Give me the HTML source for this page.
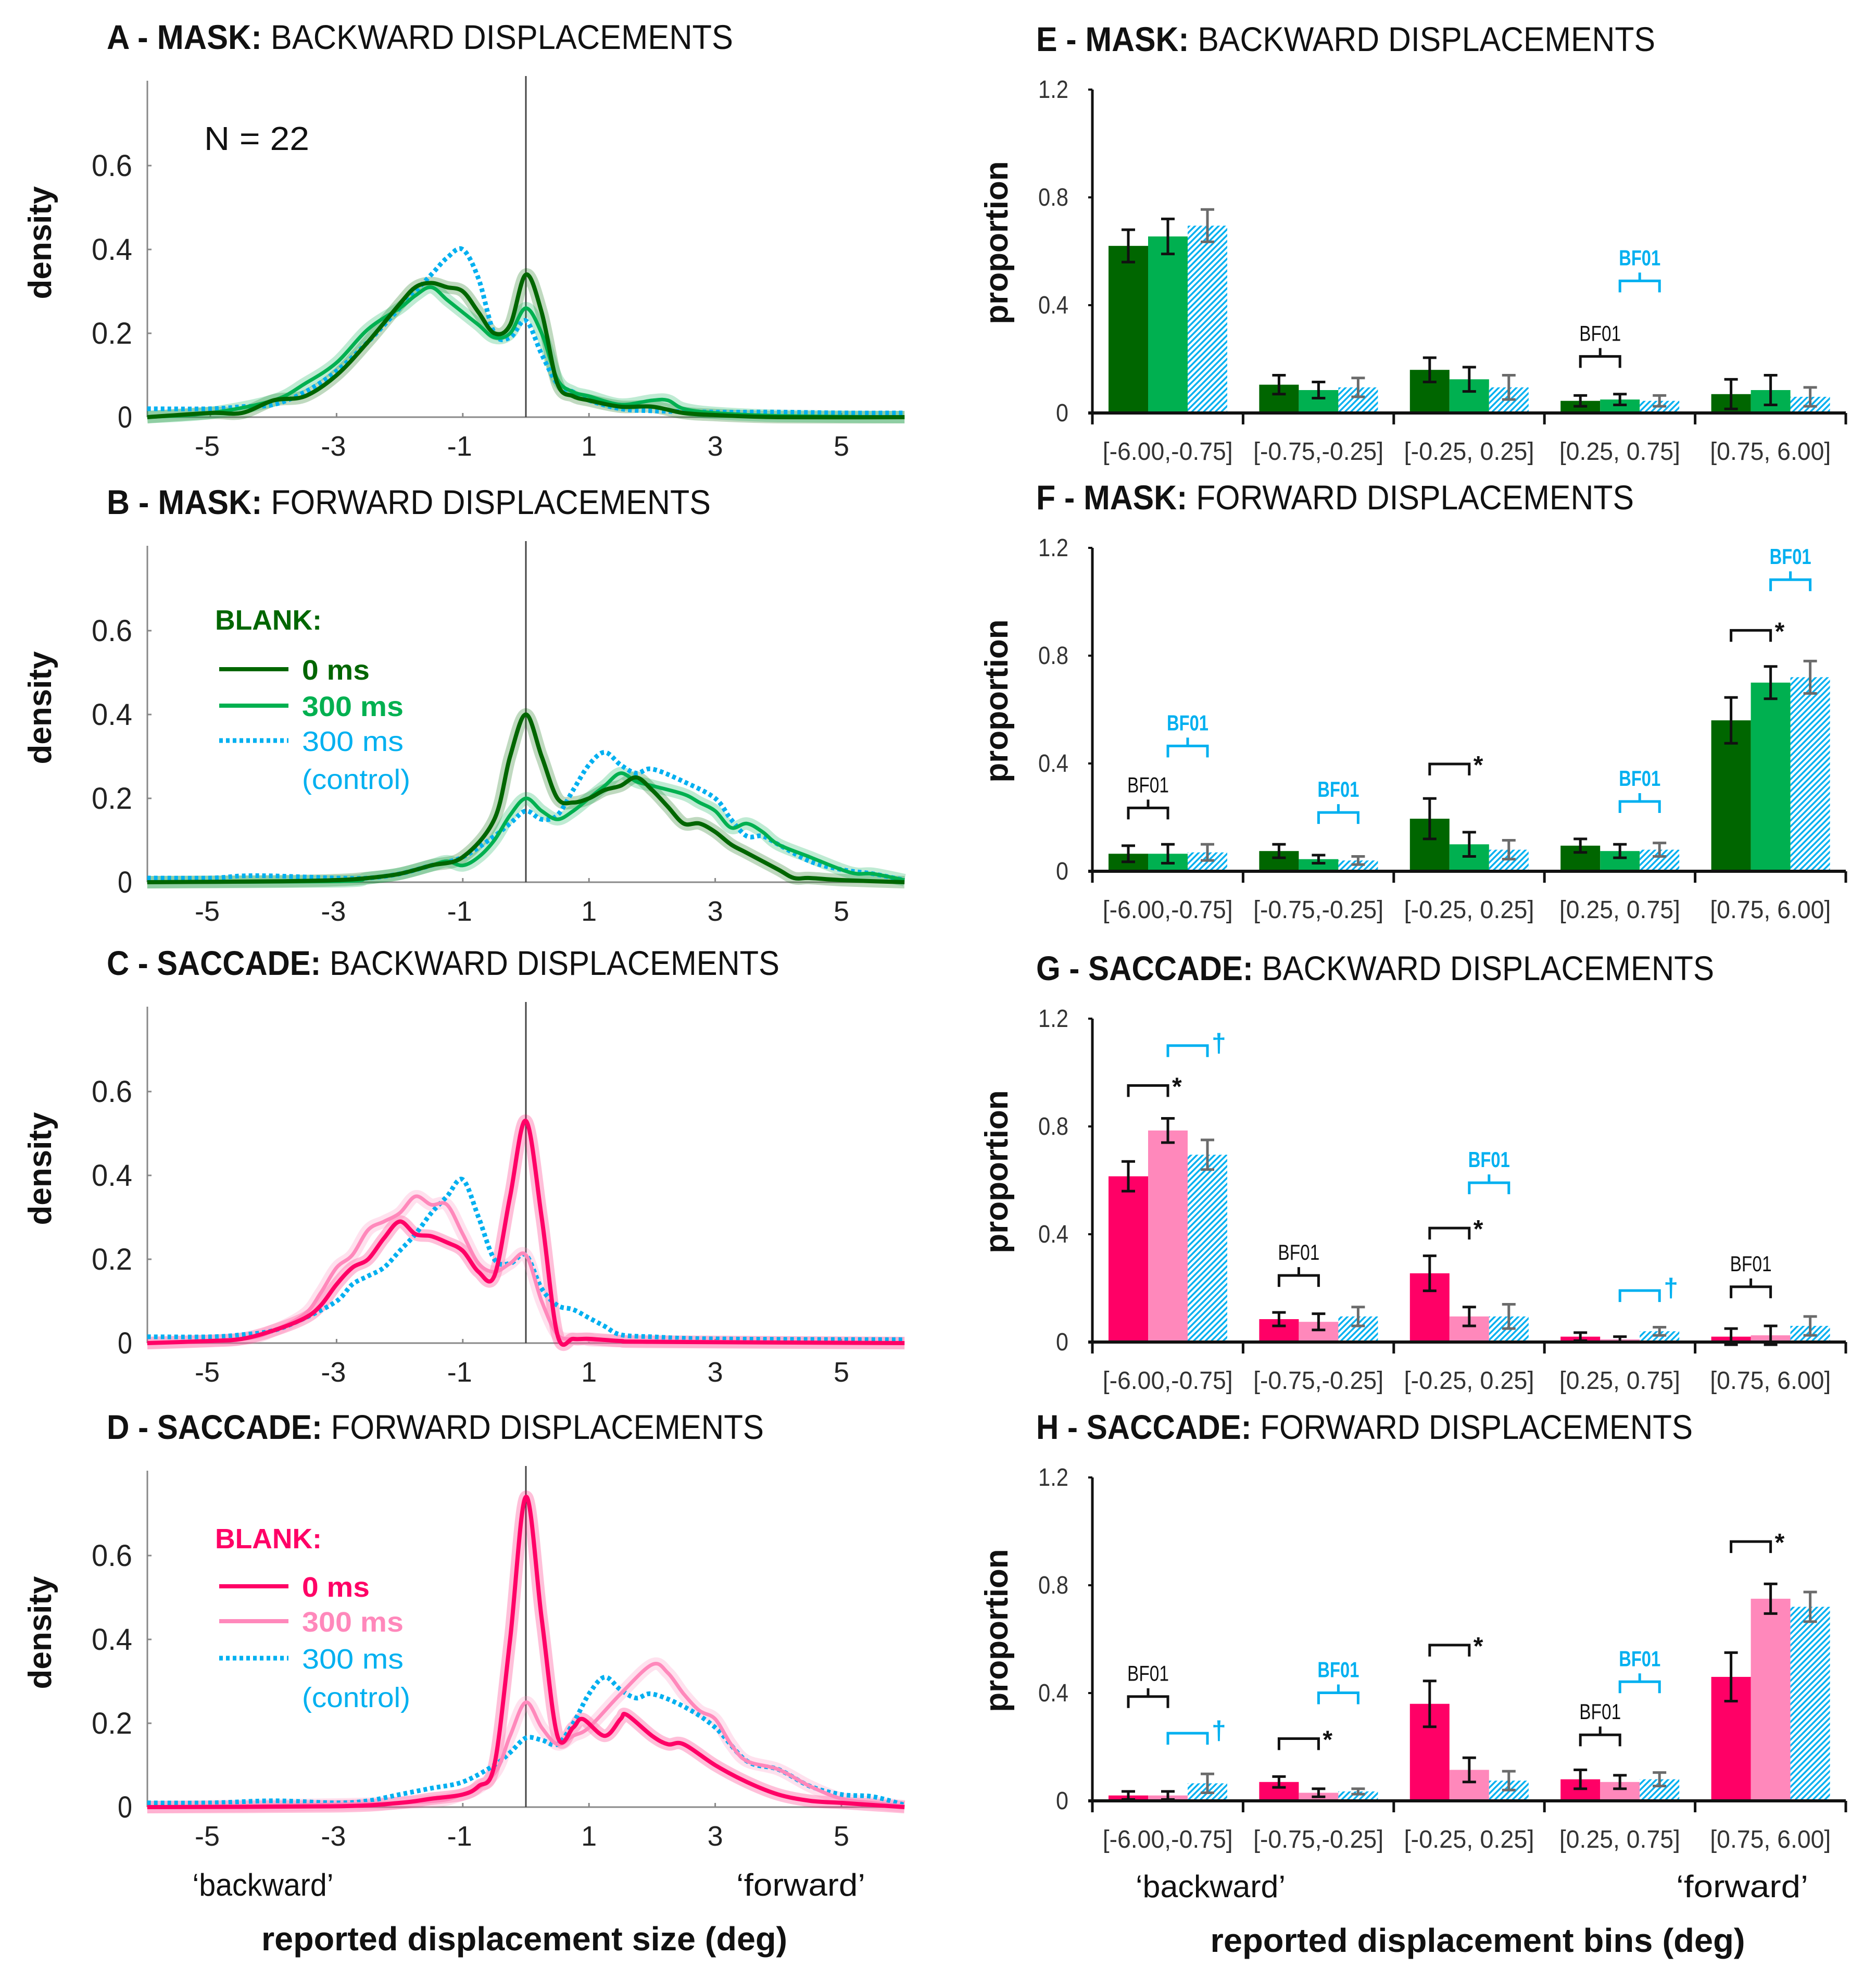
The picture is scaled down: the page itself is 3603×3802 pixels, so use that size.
<!DOCTYPE html>
<html><head><meta charset="utf-8"><style>
html,body{margin:0;padding:0;background:#fff;}
svg{display:block;font-family:"Liberation Sans",sans-serif;}
</style></head>
<body>
<svg id="fig" width="3603" height="3802" viewBox="0 0 3603 3802" xmlns="http://www.w3.org/2000/svg">
<defs>
<pattern id="hatch" patternUnits="userSpaceOnUse" width="8" height="8" patternTransform="rotate(45)">
<rect width="8" height="8" fill="#fff"/><rect x="0" y="0" width="3.5" height="8" fill="#00b0f0"/>
</pattern>
</defs>
</svg>
<script>
// ---------- density data (x deg, density) ----------
const aDark=[[-6,0],[-5,0.01],[-4.5,0.01],[-4,0.04],[-3.5,0.05],[-3,0.1],[-2.5,0.18],[-2,0.27],[-1.75,0.31],[-1.5,0.32],[-1.25,0.31],[-1,0.3],[-0.75,0.25],[-0.5,0.2],[-0.25,0.22],[0,0.34],[0.25,0.25],[0.5,0.08],[0.75,0.05],[1,0.04],[1.5,0.025],[2,0.025],[2.5,0.01],[3,0.005],[4,0],[6,0]];
const aMid=[[-6,0],[-5,0.01],[-4,0.04],[-3.5,0.08],[-3,0.13],[-2.5,0.21],[-2,0.26],[-1.75,0.29],[-1.5,0.31],[-1.25,0.28],[-1,0.25],[-0.75,0.22],[-0.5,0.19],[-0.25,0.2],[0,0.26],[0.25,0.2],[0.5,0.09],[0.75,0.06],[1,0.05],[1.5,0.03],[2,0.04],[2.25,0.04],[2.5,0.02],[3,0.01],[4,0.003],[6,0]];
const aCtrl=[[-6,0.02],[-5,0.02],[-4.5,0.025],[-4,0.03],[-3.5,0.06],[-3,0.11],[-2.5,0.18],[-2,0.26],[-1.5,0.34],[-1.25,0.38],[-1,0.4],[-0.75,0.33],[-0.5,0.2],[-0.25,0.19],[0,0.23],[0.25,0.15],[0.5,0.08],[0.75,0.06],[1,0.04],[1.5,0.02],[2,0.015],[3,0.012],[4,0.012],[5,0.01],[6,0.01]];
const bDark=[[-6,0],[-4,0.002],[-3,0.005],[-2.5,0.01],[-2,0.02],[-1.5,0.04],[-1,0.06],[-0.5,0.15],[-0.25,0.3],[0,0.4],[0.25,0.3],[0.5,0.2],[0.75,0.19],[1,0.2],[1.25,0.22],[1.5,0.23],[1.75,0.25],[2,0.22],[2.25,0.18],[2.5,0.14],[2.75,0.14],[3,0.12],[3.25,0.09],[3.5,0.07],[4,0.03],[4.25,0.01],[4.5,0.01],[5,0.005],[6,0]];
const bMid=[[-6,0],[-3,0.002],[-2.5,0.01],[-2,0.02],[-1.5,0.04],[-1.25,0.05],[-1,0.04],[-0.75,0.06],[-0.5,0.1],[-0.25,0.16],[0,0.2],[0.25,0.17],[0.5,0.15],[0.75,0.17],[1,0.2],[1.25,0.23],[1.5,0.26],[1.75,0.24],[2,0.23],[2.5,0.21],[2.75,0.19],[3,0.17],[3.25,0.13],[3.5,0.14],[3.75,0.12],[4,0.09],[4.5,0.06],[5,0.03],[5.25,0.02],[5.5,0.02],[6,0.005]];
const bCtrl=[[-6,0.01],[-5,0.01],[-4.5,0.015],[-4,0.015],[-3,0.01],[-2.5,0.01],[-2,0.02],[-1.5,0.04],[-1,0.06],[-0.5,0.11],[-0.25,0.14],[0,0.17],[0.25,0.15],[0.5,0.16],[0.75,0.22],[1,0.28],[1.25,0.31],[1.5,0.28],[1.75,0.26],[2,0.27],[2.5,0.24],[3,0.2],[3.25,0.15],[3.5,0.11],[3.75,0.11],[4,0.09],[4.5,0.05],[5,0.03],[5.5,0.02],[6,0.005]];
const cDark=[[-6,0],[-5,0.005],[-4.5,0.01],[-4,0.03],[-3.5,0.06],[-3.25,0.09],[-3,0.14],[-2.75,0.18],[-2.5,0.2],[-2.25,0.25],[-2,0.29],[-1.75,0.26],[-1.5,0.255],[-1.25,0.24],[-1,0.22],[-0.75,0.17],[-0.5,0.16],[-0.25,0.35],[0,0.53],[0.25,0.3],[0.5,0.02],[0.75,0.01],[1,0.01],[1.5,0.005],[2,0.003],[6,0]];
const cMid=[[-6,0],[-4.5,0.01],[-4,0.03],[-3.5,0.07],[-3.25,0.12],[-3,0.18],[-2.75,0.21],[-2.5,0.27],[-2.25,0.29],[-2,0.31],[-1.75,0.35],[-1.5,0.33],[-1.25,0.33],[-1,0.26],[-0.75,0.19],[-0.5,0.17],[-0.25,0.19],[0,0.21],[0.25,0.1],[0.5,0.02],[0.75,0.01],[1,0.01],[1.5,0.005],[6,0]];
const cCtrl=[[-6,0.015],[-5,0.015],[-4.5,0.02],[-4,0.03],[-3.5,0.06],[-3,0.1],[-2.75,0.14],[-2.5,0.16],[-2.25,0.18],[-2,0.22],[-1.75,0.26],[-1.5,0.31],[-1.25,0.35],[-1,0.39],[-0.75,0.3],[-0.5,0.2],[-0.25,0.19],[0,0.21],[0.25,0.13],[0.5,0.09],[0.75,0.08],[1,0.06],[1.25,0.04],[1.5,0.02],[2,0.015],[3,0.01],[6,0.008]];
const dDark=[[-6,0],[-3,0.002],[-2,0.01],[-1.5,0.02],[-1,0.03],[-0.75,0.05],[-0.5,0.1],[-0.25,0.4],[0,0.74],[0.25,0.45],[0.5,0.17],[0.75,0.19],[0.9,0.21],[1.25,0.17],[1.5,0.21],[1.6,0.22],[2,0.17],[2.25,0.15],[2.5,0.15],[3,0.1],[3.5,0.06],[4,0.03],[4.5,0.015],[5,0.01],[5.5,0.005],[6,0]];
const dMid=[[-6,0],[-2,0.01],[-1,0.03],[-0.5,0.08],[-0.25,0.17],[0,0.25],[0.25,0.19],[0.5,0.15],[0.75,0.17],[1,0.19],[1.5,0.27],[2,0.34],[2.25,0.32],[2.5,0.27],[2.75,0.23],[3,0.21],[3.25,0.15],[3.5,0.11],[4,0.09],[4.5,0.05],[5,0.02],[5.5,0.01],[6,0.002]];
const dCtrl=[[-6,0.01],[-5,0.01],[-4,0.015],[-3,0.01],[-2.5,0.015],[-2,0.03],[-1.5,0.045],[-1,0.06],[-0.5,0.1],[-0.25,0.13],[0,0.165],[0.25,0.16],[0.5,0.15],[0.75,0.2],[1,0.27],[1.25,0.31],[1.5,0.28],[1.75,0.26],[2,0.27],[2.5,0.24],[3,0.19],[3.5,0.11],[4,0.09],[4.5,0.05],[5,0.03],[5.5,0.025],[6,0.005]];
const xTicks=[-5,-3,-1,1,3,5];
const yTicksL=[0,0.2,0.4,0.6];

// ---------- bar data ----------
const categories=["[-6.00,-0.75]","[-0.75,-0.25]","[-0.25, 0.25]","[0.25, 0.75]","[0.75, 6.00]"];
const yTicksR=[0,0.4,0.8,1.2];
const eVals=[[0.62,0.655,0.695],[0.105,0.085,0.095],[0.16,0.125,0.095],[0.045,0.05,0.045],[0.07,0.085,0.06]];
const eErr=[[0.06,0.065,0.06],[0.035,0.03,0.035],[0.045,0.045,0.045],[0.02,0.02,0.02],[0.055,0.055,0.035]];
const fVals=[[0.065,0.065,0.07],[0.075,0.045,0.04],[0.195,0.1,0.08],[0.095,0.075,0.08],[0.56,0.7,0.72]];
const fErr=[[0.03,0.035,0.03],[0.025,0.015,0.015],[0.075,0.045,0.035],[0.025,0.025,0.025],[0.085,0.06,0.06]];
const gVals=[[0.615,0.785,0.695],[0.085,0.075,0.095],[0.255,0.095,0.095],[0.02,0.01,0.04],[0.02,0.025,0.06]];
const gErr=[[0.055,0.045,0.055],[0.025,0.03,0.035],[0.065,0.035,0.045],[0.015,0.01,0.015],[0.03,0.035,0.035]];
const hVals=[[0.02,0.02,0.065],[0.07,0.03,0.035],[0.36,0.115,0.075],[0.08,0.07,0.08],[0.46,0.75,0.72]];
const hErr=[[0.015,0.015,0.035],[0.02,0.015,0.01],[0.085,0.045,0.035],[0.035,0.025,0.025],[0.09,0.055,0.055]];
// annotations: [group, pair(0=bars1-2,1=bars2-3), level, kind]
const eAnn=[[3,0,0.21,"BF01"],[3,1,0.49,"BF01"]];
const fAnn=[[0,0,0.235,"BF01"],[0,1,0.465,"BF01"],[1,1,0.218,"BF01"],[2,0,0.398,"*"],[3,1,0.259,"BF01"],[4,0,0.894,"*"],[4,1,1.082,"BF01"]];
const gAnn=[[0,0,0.952,"*"],[0,1,1.1,"†"],[1,0,0.247,"BF01"],[2,0,0.423,"*"],[2,1,0.591,"BF01"],[3,1,0.191,"†"],[4,0,0.205,"BF01"]];
const hAnn=[[0,0,0.387,"BF01"],[0,1,0.251,"†"],[1,0,0.231,"*"],[1,1,0.401,"BF01"],[2,0,0.578,"*"],[3,0,0.245,"BF01"],[3,1,0.442,"BF01"],[4,0,0.962,"*"]];

const NS="http://www.w3.org/2000/svg";
const svg=document.getElementById('fig');
function mk(tag,attrs,parent){const e=document.createElementNS(NS,tag);for(const k in attrs)e.setAttribute(k,attrs[k]);(parent||svg).appendChild(e);return e;}
function txt(s,attrs,parent){const e=mk('text',attrs,parent);e.textContent=s;return e;}
function title(x,y,bold,rest,len){
  const t=mk('text',{x:x,y:y,'font-size':66,textLength:len,lengthAdjust:'spacingAndGlyphs',fill:'#111'});
  
  
  const a=mk('tspan',{'font-weight':'bold'},t);a.textContent=bold;
  const b=mk('tspan',{},t);b.textContent=rest;
}
function smooth(pts){
  let d='M'+pts[0][0].toFixed(1)+','+pts[0][1].toFixed(1);
  for(let i=0;i<pts.length-1;i++){
    const p0=pts[Math.max(0,i-1)],p1=pts[i],p2=pts[i+1],p3=pts[Math.min(pts.length-1,i+2)];
    const c1=[p1[0]+(p2[0]-p0[0])/6,p1[1]+(p2[1]-p0[1])/6],c2=[p2[0]-(p3[0]-p1[0])/6,p2[1]-(p3[1]-p1[1])/6];
    d+=' C'+c1[0].toFixed(1)+','+c1[1].toFixed(1)+' '+c2[0].toFixed(1)+','+c2[1].toFixed(1)+' '+p2[0].toFixed(1)+','+p2[1].toFixed(1);
  }
  return d;
}

// ---------- density panels ----------
const L={x0:283,x1:1737,cx:1010,ux:121.2,uy:805};
function xL(v){return L.cx+v*L.ux;}
function densityPanel(zero,letter,cat,kind,series,colors){
  const yL=v=>zero-v*L.uy;
  title(205,zero-707,letter+' - '+cat+': ',kind+' DISPLACEMENTS',cat==='MASK'?(kind==='BACKWARD'?1203:1160):(kind==='BACKWARD'?1292:1262));
  const g=mk('g',{});
  
  
  const ya=mk('line',{x1:L.x0,y1:zero,x2:L.x0,y2:zero-646,stroke:'#888','stroke-width':3},g);
  
  
  const xa=mk('line',{x1:L.x0,y1:zero,x2:L.x1,y2:zero,stroke:'#888','stroke-width':3},g);
  
  
  yTicksL.forEach(v=>{
    mk('line',{x1:L.x0,y1:yL(v),x2:L.x0+8,y2:yL(v),stroke:'#888','stroke-width':3},g);
    const t=txt(String(v),{x:254,y:yL(v)+20,'font-size':58,'text-anchor':'end',fill:'#222',textLength:v===0?28:78,lengthAdjust:'spacingAndGlyphs'},g);
    
    
  });
  xTicks.forEach(v=>{
    mk('line',{x1:xL(v),y1:zero,x2:xL(v),y2:zero-8,stroke:'#888','stroke-width':3},g);
    const t=txt(String(v),{x:xL(v)-(v<0?6:0),y:zero+74,'font-size':54,'text-anchor':'middle',fill:'#222'},g);
    
    
  });
  const vl=mk('line',{x1:L.cx,y1:zero,x2:L.cx,y2:zero-655,stroke:'#444','stroke-width':3},g);
  
  
  const yt=txt('density',{x:0,y:0,'font-size':62,'font-weight':'bold','text-anchor':'middle',transform:'translate(98,'+(zero-335)+') rotate(-90)',fill:'#111'},g);
  
  
  [0,1].forEach(i=>{
    const p=mk('path',{d:smooth(series[i].map(q=>[xL(q[0]),yL(q[1])])),fill:'none',stroke:colors[i],'stroke-opacity':0.25,'stroke-width':24,'stroke-linejoin':'round'},g);
    
    
  });
  const c=mk('path',{d:smooth(series[2].map(q=>[xL(q[0]),yL(q[1])])),fill:'none',stroke:'#00b0f0','stroke-width':9,'stroke-dasharray':'7 6'},g);
  
  
  [1,0].forEach(i=>{
    const p=mk('path',{d:smooth(series[i].map(q=>[xL(q[0]),yL(q[1])])),fill:'none',stroke:colors[i],'stroke-width':i===0?8:7,'stroke-linejoin':'round'},g);
    
    
  });
}
densityPanel(801,'A','MASK','BACKWARD',[aDark,aMid,aCtrl],['#006600','#00b050']);
densityPanel(1694,'B','MASK','FORWARD',[bDark,bMid,bCtrl],['#006600','#00b050']);
densityPanel(2579,'C','SACCADE','BACKWARD',[cDark,cMid,cCtrl],['#ff0066','#ff88bb']);
densityPanel(3470,'D','SACCADE','FORWARD',[dDark,dMid,dCtrl],['#ff0066','#ff88bb']);

const n=txt('N = 22',{x:392,y:288,'font-size':64,fill:'#111',textLength:202,lengthAdjust:'spacingAndGlyphs'});



function legend(ys,c0,c1){
  const g=mk('g',{});
  
  
  const h=txt('BLANK:',{x:413,y:ys[0]+22,'font-size':54,'font-weight':'bold',fill:c0,textLength:205,lengthAdjust:'spacingAndGlyphs'},g);
  
  
  const items=[['0 ms',c0,'bold',''],['300 ms',c1,'bold',''],['300 ms','#00b0f0','normal','7 6']];
  items.forEach((it,i)=>{
    const y=ys[i+1];
    const l=mk('line',{x1:421,y1:y,x2:554,y2:y,stroke:it[1],'stroke-width':i===2?9:8,'stroke-dasharray':it[3]},g);
    
    
    const t=txt(it[0],{x:580,y:y+20,'font-size':54,'font-weight':it[2],fill:it[1],textLength:i===0?130:195,lengthAdjust:'spacingAndGlyphs'},g);
    
    
  });
  const t=txt('(control)',{x:580,y:ys[4]+20,'font-size':54,fill:'#00b0f0',textLength:208,lengthAdjust:'spacingAndGlyphs'},g);
  
  
}
legend([1187,1285,1355,1422,1495],'#006600','#00b050');
legend([2951,3046,3113,3184,3258],'#ff0066','#ff88bb');

// ---------- bar panels ----------
const R={x0:2098,x1:3545,gw:289.4,off:31,bw:76,uy:517.5};
function barPanel(zero,letter,cat,kind,vals,errs,ann,cols){
  const yR=v=>zero-v*R.uy;
  const bx=(gi,bi)=>R.x0+gi*R.gw+R.off+bi*R.bw;
  title(1990,zero-695,letter+' - '+cat+': ',kind+' DISPLACEMENTS',cat==='MASK'?(kind==='BACKWARD'?1189:1148):(kind==='BACKWARD'?1302:1261));
  const g=mk('g',{});
  
  
  const yt=txt('proportion',{x:0,y:0,'font-size':62,'font-weight':'bold','text-anchor':'middle',transform:'translate(1935,'+(zero-327)+') rotate(-90)',fill:'#111'},g);
  
  
  yTicksR.forEach(v=>{
    mk('line',{x1:R.x0-8,y1:yR(v),x2:R.x0,y2:yR(v),stroke:'#111','stroke-width':4},g);
    const t=txt(String(v),{x:2052,y:yR(v)+16,'font-size':48,'text-anchor':'end',fill:'#333',textLength:v===0?24:58,lengthAdjust:'spacingAndGlyphs'},g);
    
    
  });
  vals.forEach((gv,gi)=>{
    gv.forEach((v,bi)=>{
      const r=mk('rect',{x:bx(gi,bi),y:yR(v),width:R.bw,height:v*R.uy,fill:bi===2?'url(#hatch)':cols[bi]},g);
      
      
    });
    gv.forEach((v,bi)=>{
      const cx=bx(gi,bi)+R.bw/2,e=errs[gi][bi],sc=bi===2?'#6b6b6b':'#111';
      const eb=mk('path',{d:'M'+cx+','+yR(v+e)+'V'+yR(v-e)+'M'+(cx-13)+','+yR(v+e)+'h26M'+(cx-13)+','+yR(v-e)+'h26',stroke:sc,'stroke-width':5,fill:'none'},g);
      
      
    });
    const t=txt(categories[gi],{x:R.x0+gi*R.gw+R.gw/2,y:zero+90,'font-size':48,'text-anchor':'middle',fill:'#333',textLength:gi<3?250:232,lengthAdjust:'spacingAndGlyphs'},g);
    
    
  });
  const ya=mk('line',{x1:R.x0,y1:zero+2,x2:R.x0,y2:yR(1.2),stroke:'#111','stroke-width':5},g);
  
  
  const xa=mk('line',{x1:R.x0-8,y1:zero,x2:R.x1,y2:zero,stroke:'#111','stroke-width':6},g);
  
  
  for(let i=0;i<=5;i++){mk('line',{x1:R.x0+i*R.gw,y1:zero,x2:R.x0+i*R.gw,y2:zero+22,stroke:'#111','stroke-width':5},g);}
  ann.forEach(a=>{
    const [gi,pr,lv,kind]=a;
    const xa1=bx(gi,pr)+R.bw/2,xa2=bx(gi,pr+1)+R.bw/2,y=yR(lv);
    const col=pr===1?'#00b0f0':'#111';
    let d;
    if(kind==='BF01'){d='M'+xa1+','+(y+22)+'V'+y+'H'+xa2+'V'+(y+22)+'M'+((xa1+xa2)/2)+','+y+'v-16';}
    else{d='M'+xa1+','+(y+22)+'V'+y+'H'+xa2+'V'+(y+22);}
    const p=mk('path',{d:d,stroke:col,'stroke-width':5,fill:'none'},g);
    
    
    let t;
    if(kind==='BF01'){t=txt('BF01',{x:(xa1+xa2)/2,y:y-30,'font-size':42,'text-anchor':'middle',fill:col,'font-weight':pr===1?'bold':'normal',textLength:80,lengthAdjust:'spacingAndGlyphs'},g);}
    else{t=txt(kind,{x:xa2+8,y:y+(kind==='*'?18:12),'font-size':kind==='*'?48:50,fill:col,'font-weight':'bold'},g);}
    
    
  });
}
barPanel(793,'E','MASK','BACKWARD',eVals,eErr,eAnn,['#006600','#00b050']);
barPanel(1673,'F','MASK','FORWARD',fVals,fErr,fAnn,['#006600','#00b050']);
barPanel(2577,'G','SACCADE','BACKWARD',gVals,gErr,gAnn,['#ff0066','#ff88bb']);
barPanel(3458,'H','SACCADE','FORWARD',hVals,hErr,hAnn,['#ff0066','#ff88bb']);

// ---------- bottom labels ----------
function label(s,x,y,size,w,bold,name){
  const t=txt(s,{x:x,y:y,'font-size':size,'text-anchor':'middle',fill:'#111','font-weight':bold?'bold':'normal',textLength:w,lengthAdjust:'spacingAndGlyphs'});
  
  
}
label('\u2018backward\u2019',505,3640,60,271,false,'backward-label');
label('\u2018forward\u2019',1538,3640,60,248,false,'forward-label');
label('reported displacement size (deg)',1007,3745,64,1010,true,'x-axis-title');
label('\u2018backward\u2019',2325,3643,60,288,false,'backward-label');
label('\u2018forward\u2019',3346,3643,60,254,false,'forward-label');
label('reported displacement bins (deg)',2838,3748,64,1027,true,'x-axis-title');
</script>
</body></html>
